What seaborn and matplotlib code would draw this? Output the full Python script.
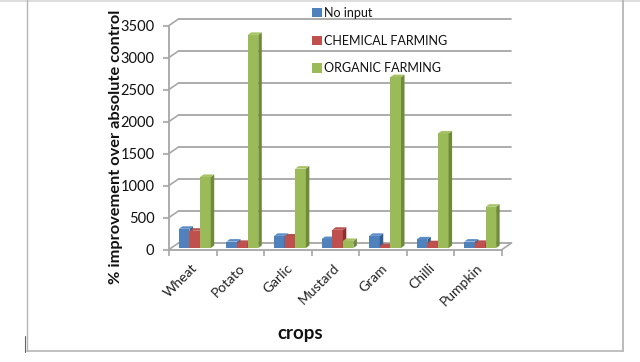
import pandas as pd
import seaborn as sns
import matplotlib.pyplot as plt
import matplotlib.transforms as mtransforms
from matplotlib.lines import Line2D

crops = ["Wheat", "Potato", "Garlic", "Mustard", "Gram", "Chilli", "Pumpkin"]
no_input = [300, 100, 190, 140, 190, 135, 100]
chemical = [270, 80, 180, 285, 30, 75, 80]
organic = [1110, 3330, 1240, 110, 2670, 1790, 645]
series_names = ["No input", "CHEMICAL FARMING", "ORGANIC FARMING"]
y_ticks = [0, 500, 1000, 1500, 2000, 2500, 3000, 3500]

front_colors = ["#4F81BD", "#C0504D", "#9BBB59"]
top_colors = ["#5B8CC6", "#B5504C", "#A6C264"]
side_colors = ["#2F5F93", "#8C2F2C", "#6E8A3A"]
grid_color = "#A6A6A6"

W, H = 640, 362
sns.set_style("white")
plt.rcParams["font.family"] = ["Lato", "DejaVu Sans"]

df = pd.DataFrame({
    "crop": crops * 3,
    "value": no_input + chemical + organic,
    "series": [s for s in series_names for _ in crops],
})

fig = plt.figure(figsize=(W / 100, H / 100), dpi=100)
# front plane of the fake 3d box, in pixels
left, right, y_zero, y_top = 169, 502, 249.5, 25.5
ax = fig.add_axes([left / W, 1 - y_zero / H, (right - left) / W, (y_zero - y_top) / H])

sns.barplot(data=df, x="crop", y="value", hue="series", palette=front_colors,
            saturation=1, width=0.67, gap=0, ax=ax, linewidth=0, legend=True)

ax.set_xlim(-0.5, 6.5)
ax.set_ylim(0, 3500)
x_per_px = 7 / (right - left)
y_per_px = 3500 / (y_zero - y_top)

# back wall + floor
wall_dx, wall_dy = 9.5 * x_per_px, 6.5 * y_per_px
for t in y_ticks:
    ax.plot([-0.5 + wall_dx, 6.5 + wall_dx], [t + wall_dy, t + wall_dy], color=grid_color, lw=1.3, clip_on=False, zorder=1)
    ax.plot([-0.5, -0.5 + wall_dx], [t, t + wall_dy], color=grid_color, lw=1.2, clip_on=False, zorder=1)
ax.plot([6.5, 6.5 + wall_dx], [0, wall_dy], color=grid_color, lw=1.2, clip_on=False, zorder=1)

# bars stand a little behind the front plane, with a side and a top face
bar_shift = mtransforms.Affine2D().translate(2, 1.5)
depth_x, depth_y = 3.5 * x_per_px, 2.5 * y_per_px
for i, container in enumerate(ax.containers):
    for bar in container:
        x0, w, h = bar.get_x(), bar.get_width(), bar.get_height()
        x1 = x0 + w
        z = 3 + i
        bar.set_transform(ax.transData + bar_shift)
        bar.set_clip_on(False)
        bar.set_zorder(z)
        trans = ax.transData + bar_shift
        ax.fill([x1, x1 + depth_x, x1 + depth_x, x1], [0, depth_y, h + depth_y, h], color=side_colors[i],
                lw=0, transform=trans, zorder=z, clip_on=False)
        ax.fill([x0, x1, x1 + depth_x, x0 + depth_x], [h, h, h + depth_y, h + depth_y], color=top_colors[i],
                lw=0, transform=trans, zorder=z, clip_on=False)

sns.despine(ax=ax)
for side in ["left", "bottom"]:
    ax.spines[side].set_color(grid_color)
    ax.spines[side].set_linewidth(1.3)

ax.set_yticks(y_ticks)
ax.set_xticks([i - 0.5 for i in range(len(crops) + 1)], minor=True)
ax.tick_params(axis="x", which="minor", length=4, width=1.2, color=grid_color, bottom=True)
ax.tick_params(axis="x", which="major", length=0, pad=9, labelsize=10, labelcolor="#222222")
ax.tick_params(axis="y", length=4, width=1.2, color=grid_color, pad=6.5, labelsize=10.5, labelcolor="#111111", left=True)
plt.setp(ax.get_xticklabels(), rotation=45, ha="right", rotation_mode="anchor")
label_shift = mtransforms.Affine2D().translate(-2, 0)
for label in ax.get_xticklabels():
    label.set_transform(label.get_transform() + label_shift)

ax.set_xlabel("")
ax.set_ylabel("")
fig.text(300 / W, 1 - 334 / H, "crops", fontsize=13.5, fontweight="bold", ha="center", va="center", color="#111111")
fig.text(116 / W, 1 - 147 / H, "% improvement over absolute control", fontsize=11.8, fontweight="bold",
         rotation=90, ha="center", va="center", color="#111111")

handles, labels = ax.get_legend_handles_labels()
leg = ax.legend(handles, labels, frameon=False, fontsize=9, loc="upper left",
                bbox_to_anchor=(312 / W, 1 - 7 / H), bbox_transform=fig.transFigure,
                handlelength=0.8, handleheight=0.8, handletextpad=0.2,
                labelspacing=1.25, borderpad=0, borderaxespad=0)
leg.set_zorder(10)
for text in leg.get_texts():
    text.set_color("#111111")

# page frame around the pasted picture
def page_line(xs, ys, color, lw):
    fig.add_artist(Line2D([x / W for x in xs], [1 - y / H for y in ys], color=color, lw=lw))

page_line([0, 640], [0.5, 0.5], "#DDDDDD", 1.5)
page_line([26.5, 26.5], [0, 351], "#B5B5B5", 1)
page_line([623, 623], [0, 351], "#B5B5B5", 1.3)
page_line([26.5, 623], [351, 351], "#B5B5B5", 1.2)
page_line([24.5, 24.5], [336, 352], "#666666", 0.8)

fig.savefig("out.png", dpi=100)
